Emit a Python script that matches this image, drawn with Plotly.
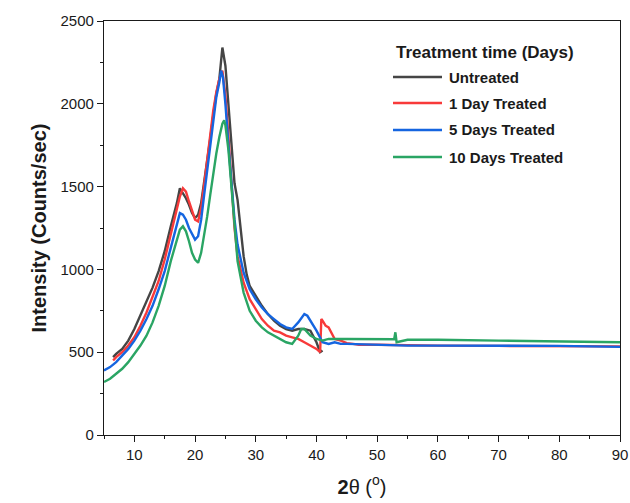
import plotly.graph_objects as go

# XRD patterns: 2-theta (degrees) vs intensity (counts/sec)
x_untreated = [6.5, 7, 8, 9, 10, 11, 12, 13, 14, 15, 16, 17, 17.5, 18, 18.5, 19, 19.5, 20,
               20.5, 21, 21.5, 22, 22.5, 23, 23.5, 24, 24.5, 25, 25.5, 26, 26.5, 27, 27.5,
               28, 28.5, 29, 30, 31, 32, 33, 34, 35, 36, 37, 38, 39, 40, 40.6, 41]
y_untreated = [470, 490, 520, 570, 640, 720, 800, 890, 990, 1110, 1260, 1400, 1490, 1460,
               1430, 1390, 1340, 1310, 1330, 1400, 1520, 1650, 1790, 1930, 2060, 2150, 2340,
               2230, 2000, 1760, 1520, 1420, 1250, 1080, 970, 900, 840, 780, 730, 690, 660,
               640, 630, 640, 640, 630, 560, 500, 510]

x_1day = [6.5, 7, 8, 9, 10, 11, 12, 13, 14, 15, 16, 17, 17.5, 18, 18.5, 19, 19.5, 20, 20.5,
          21, 21.5, 22, 22.5, 23, 23.5, 24, 24.5, 25, 25.5, 26, 26.5, 27, 28, 29, 30, 31, 32,
          33, 34, 35, 36, 37, 38, 39, 40, 40.6, 40.8, 41, 41.5, 42, 42.5, 43, 44, 45, 46,
          47, 50, 55, 60, 70, 80, 90]
y_1day = [450, 470, 500, 540, 590, 660, 740, 830, 930, 1060, 1220, 1380, 1440, 1490, 1470,
          1410, 1350, 1300, 1290, 1370, 1510, 1660, 1820, 1960, 2070, 2150, 2200, 2050, 1800,
          1500, 1250, 1080, 920, 820, 760, 700, 660, 630, 620, 600, 590, 580, 560, 540, 520,
          500, 700, 690, 660, 650, 610, 580, 570, 555, 550, 545, 545, 542, 540, 538, 537, 535]

x_5days = [5, 6, 7, 8, 9, 10, 11, 12, 13, 14, 15, 16, 17, 17.5, 18, 18.5, 19, 19.5, 20, 20.5,
           21, 21.5, 22, 22.5, 23, 23.5, 24, 24.3, 24.6, 25, 25.5, 26, 26.5, 27, 28, 29, 30,
           31, 32, 33, 34, 35, 36, 37, 38, 38.5, 39, 40, 41, 42, 43, 44, 45, 50, 55, 60, 70,
           80, 90]
y_5days = [390, 410, 440, 480, 520, 570, 630, 700, 780, 880, 990, 1130, 1280, 1340, 1330,
           1300, 1250, 1210, 1180, 1200, 1300, 1450, 1600, 1760, 1900, 2040, 2130, 2200, 2160,
           2000, 1750, 1500, 1300, 1150, 980, 880, 820, 770, 730, 700, 670, 650, 640, 680, 730,
           720, 690, 630, 560, 550, 560, 550, 550, 545, 540, 540, 540, 538, 532]

x_10days = [5, 6, 7, 8, 9, 10, 11, 12, 13, 14, 15, 16, 17, 17.5, 18, 18.5, 19, 19.5, 20, 20.5,
            21, 21.5, 22, 22.5, 23, 23.5, 24, 24.5, 24.8, 25, 25.5, 26, 26.5, 27, 28, 29, 30,
            31, 32, 33, 34, 35, 36, 37, 37.5, 38, 39, 40, 41, 42, 45, 50, 52.8, 53, 53.2, 55,
            60, 70, 80, 90]
y_10days = [320, 340, 370, 400, 440, 490, 540, 600, 680, 780, 900, 1050, 1180, 1240, 1260,
            1230, 1170, 1100, 1060, 1040, 1100, 1200, 1320, 1450, 1580, 1700, 1800, 1880, 1900,
            1870, 1720, 1480, 1250, 1050, 860, 750, 690, 650, 620, 600, 580, 560, 550, 600, 640,
            640, 600, 580, 570, 580, 580, 580, 578, 620, 560, 575, 575, 570, 565, 560]

series_names = ["Untreated", "1 Day Treated", "5 Days Treated", "10 Days Treated"]
series_x = [x_untreated, x_1day, x_5days, x_10days]
series_y = [y_untreated, y_1day, y_5days, y_10days]
series_colors = ["#454545", "#f83a3a", "#1565e0", "#2aa564"]

FONT = "Liberation Sans, Arial, sans-serif"
INK = "#1a1a1a"

fig = go.Figure()
for name, xs, ys, color in zip(series_names, series_x, series_y, series_colors):
    fig.add_trace(go.Scatter(
        x=xs, y=ys, mode="lines", name=name,
        line=dict(color=color, width=2.4),
        showlegend=False,
    ))

# Legend drawn as paper-positioned line samples and labels
plot_l, plot_r, plot_t, plot_b = 104, 620, 21, 435
def px_to_paper(px, py):
    return (px - plot_l) / (plot_r - plot_l), (plot_b - py) / (plot_b - plot_t)

annotations = []
shapes = []
tx, ty = px_to_paper(394, 52)
annotations.append(dict(
    x=tx, y=ty, xref="paper", yref="paper", xanchor="left", yanchor="middle",
    text="<b>Treatment time (Days)</b>", showarrow=False,
    font=dict(family=FONT, size=17, color=INK),
))
row_py = [77, 103, 130, 157]
for name, color, py in zip(series_names, series_colors, row_py):
    x0, y0 = px_to_paper(393, py)
    x1, _ = px_to_paper(442, py)
    shapes.append(dict(type="line", xref="paper", yref="paper", x0=x0, x1=x1, y0=y0, y1=y0,
                       line=dict(color=color, width=2.4)))
    lx, _ = px_to_paper(447, py)
    annotations.append(dict(
        x=lx, y=y0, xref="paper", yref="paper", xanchor="left", yanchor="middle",
        text=f"<b>{name}</b>", showarrow=False,
        font=dict(family=FONT, size=15, color=INK),
    ))

fig.update_layout(
    width=630, height=503,
    margin=dict(l=plot_l, r=630 - plot_r, t=plot_t, b=503 - plot_b),
    paper_bgcolor="white", plot_bgcolor="white",
    font=dict(family=FONT, size=15, color=INK),
    showlegend=False,
    annotations=annotations,
    shapes=shapes,
    xaxis=dict(
        range=[5, 90], dtick=10, tick0=0, automargin=False,
        ticks="outside", ticklen=6, tickwidth=1.3, tickcolor=INK,
        minor=dict(dtick=5, ticks="outside", ticklen=3, tickwidth=1.3, tickcolor=INK),
        showline=True, linecolor=INK, linewidth=1.3, mirror=True,
        showgrid=False, zeroline=False,
        tickfont=dict(family=FONT, size=15, color=INK),
        title=dict(text="<b>2</b>θ (<sup>o</sup>)",
                   font=dict(family=FONT, size=20, color=INK),
                   standoff=17),
    ),
    yaxis=dict(
        range=[0, 2500], dtick=500, automargin=False,
        ticks="outside", ticklen=6, tickwidth=1.3, tickcolor=INK,
        minor=dict(dtick=250, ticks="outside", ticklen=3, tickwidth=1.3, tickcolor=INK),
        showline=True, linecolor=INK, linewidth=1.3, mirror=True,
        showgrid=False, zeroline=False,
        tickfont=dict(family=FONT, size=15, color=INK),
        title=dict(text="<b>Intensity (Counts/sec)</b>",
                   font=dict(family=FONT, size=20, color=INK),
                   standoff=8),
    ),
)

fig.write_html("out.html")
